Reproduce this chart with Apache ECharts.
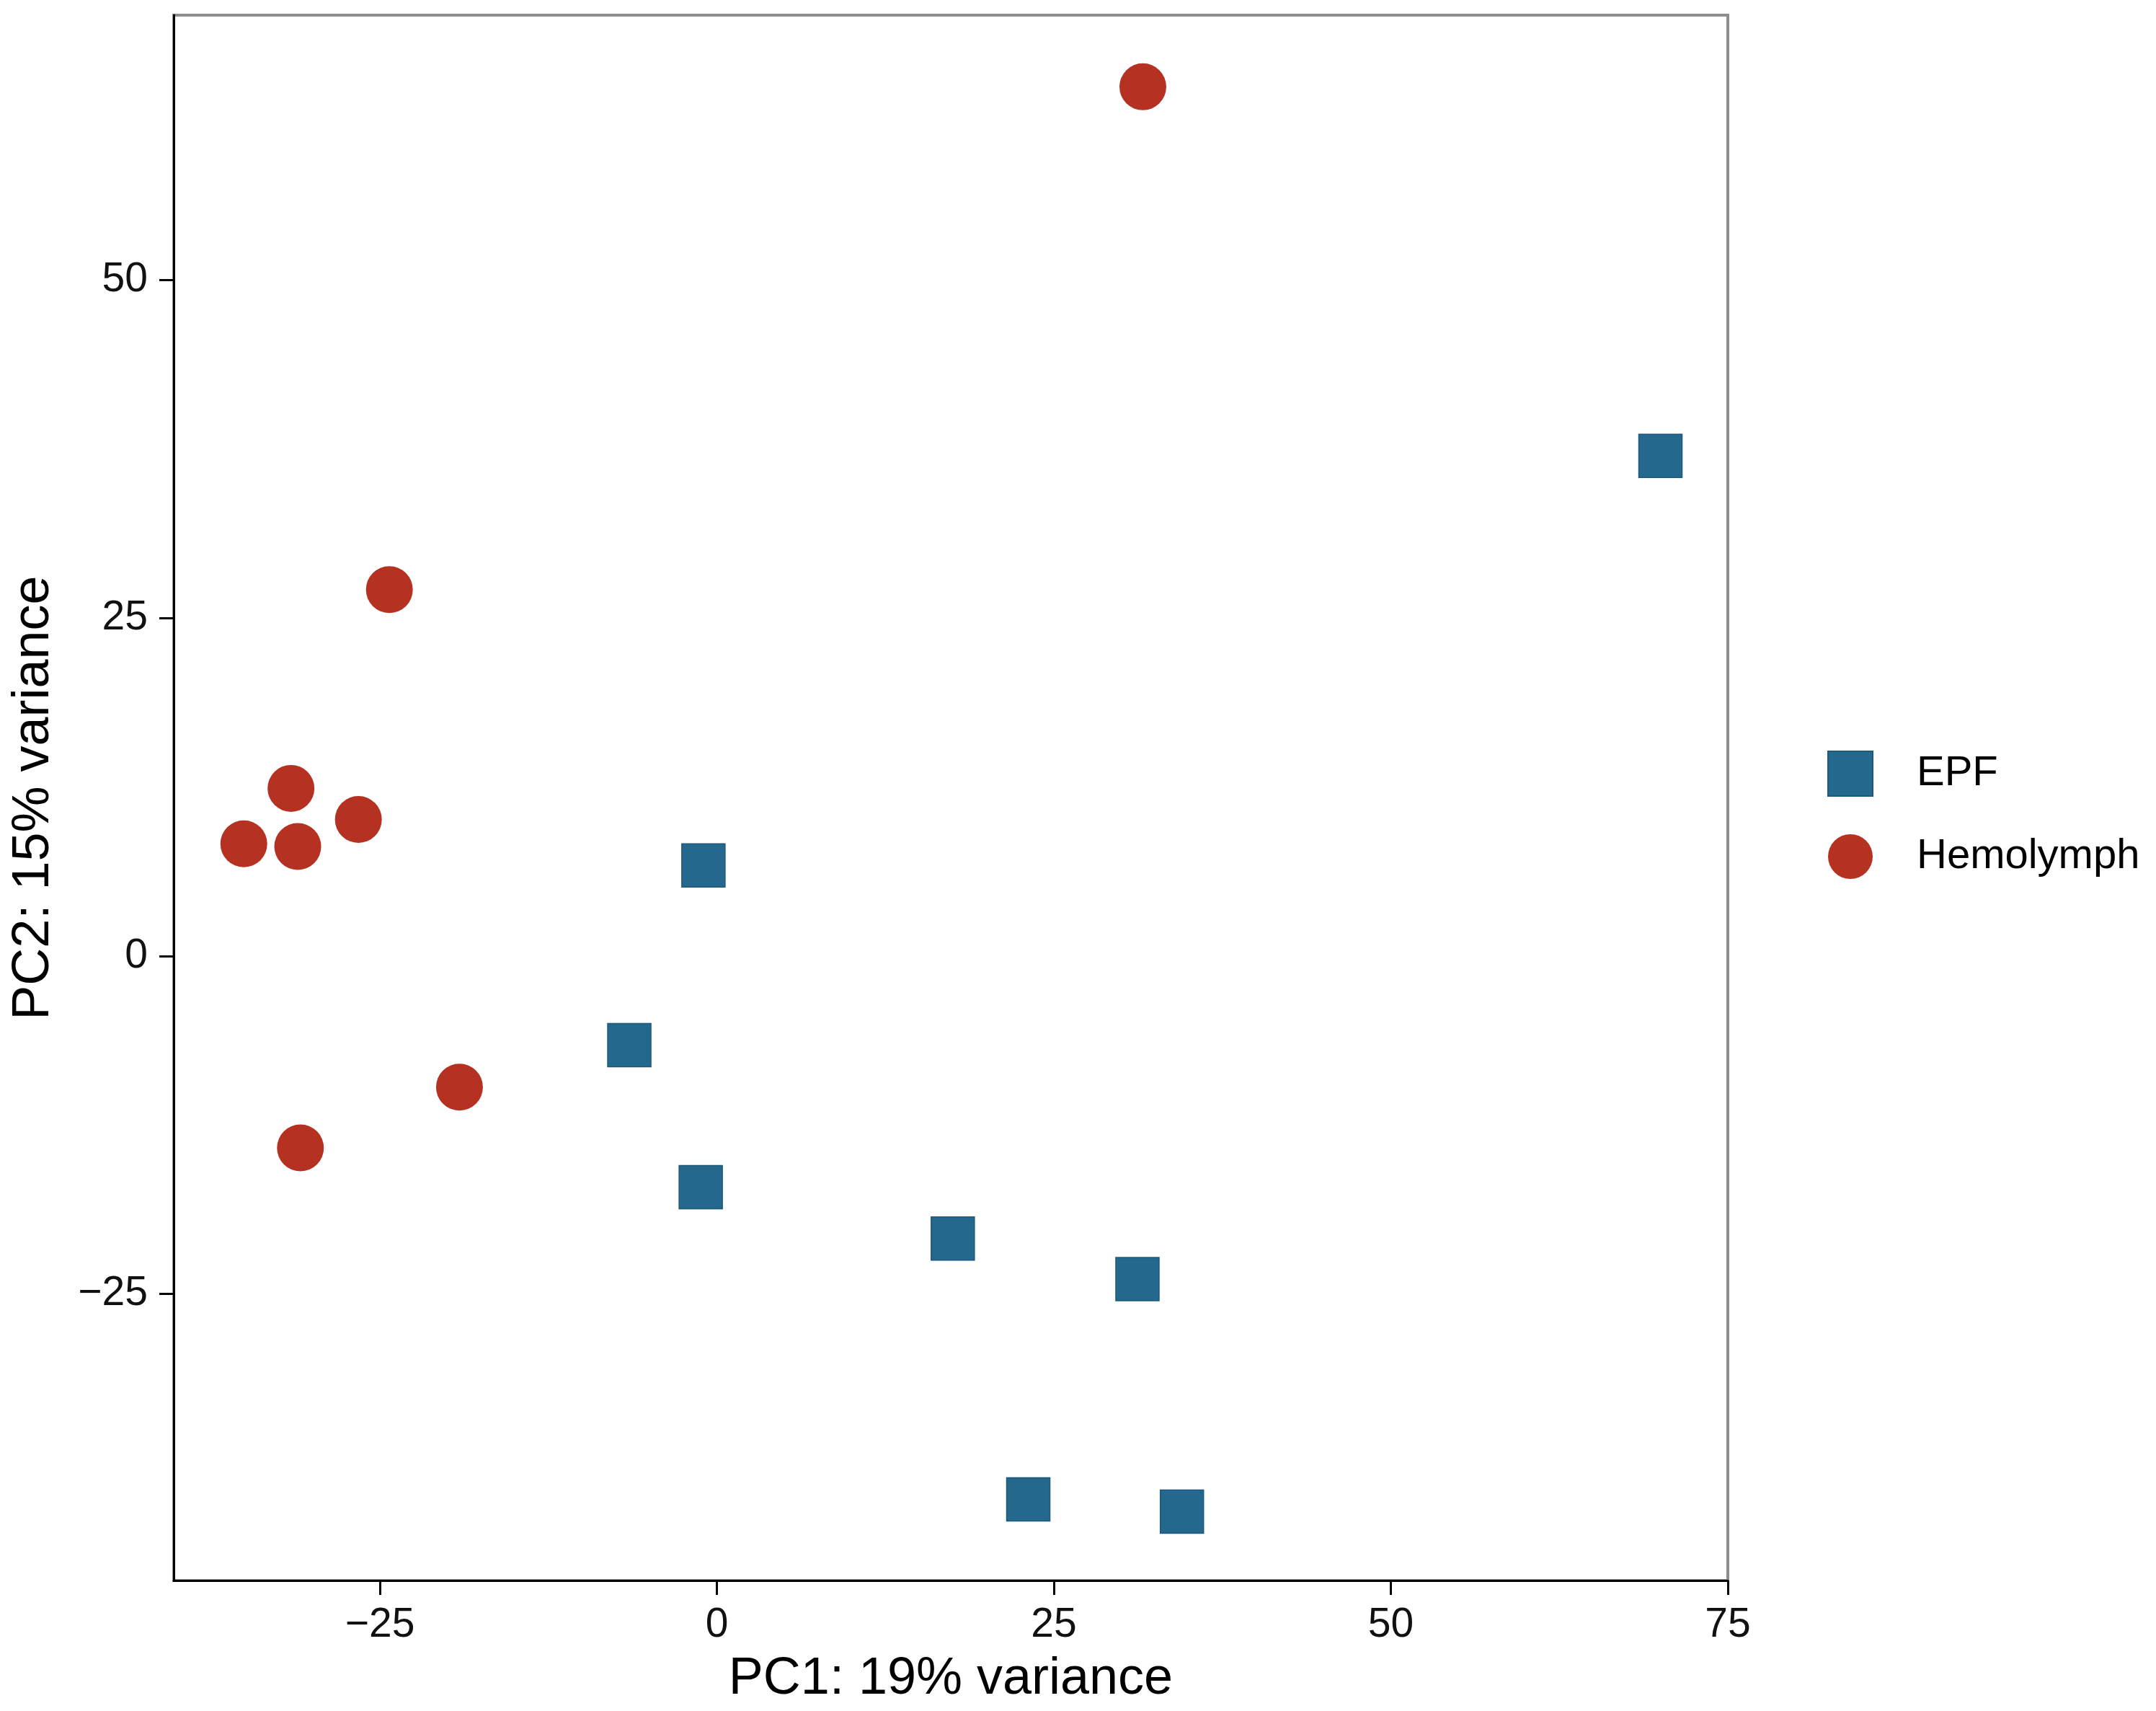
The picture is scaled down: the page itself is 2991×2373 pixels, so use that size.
<!DOCTYPE html>
<html>
<head>
<meta charset="utf-8">
<script src="https://cdn.jsdelivr.net/npm/echarts@6/dist/echarts.min.js"></script>
<style>
  html, body { margin: 0; padding: 0; background: #fff; }
  #main { width: 2991px; height: 2373px; }
</style>
</head>
<body>
<div id="main"></div>
<script>
// PCA scores, [PC1, PC2]
var epfPoints = [
  [70.0, 37.0], [-1.0, 6.7], [-6.5, -6.6], [-1.2, -17.1],
  [17.5, -20.9], [31.2, -23.9], [23.1, -40.2], [34.5, -41.1]
];
var hemolymphPoints = [
  [31.6, 64.3], [-24.3, 27.1], [-31.6, 12.4], [-35.1, 8.3],
  [-31.1, 8.1], [-26.6, 10.1], [-19.1, -9.7], [-30.9, -14.2]
];
var groupNames = ['EPF', 'Hemolymph'];
var xTicks = [-25, 0, 25, 50, 75];
var yTicks = [-25, 0, 25, 50];

var chartDom = document.getElementById('main');
var myChart = echarts.init(chartDom);

var font = 'Liberation Sans, Arial, Helvetica, sans-serif';
function fmt(v) {
  return String(v).replace('-', '\u2212');
}

var option = {
  animation: false,
  backgroundColor: '#ffffff',
  textStyle: { fontFamily: font },
  grid: {
    left: 241, right: 594, top: 21, bottom: 181,
    show: true,
    borderColor: '#8c8c8c',
    borderWidth: 4,
    backgroundColor: 'transparent'
  },
  legend: {
    orient: 'vertical',
    left: 2530,
    top: 1036,
    itemWidth: 62,
    itemHeight: 62,
    itemGap: 52,
    data: [
      { name: 'EPF', icon: 'rect' },
      { name: 'Hemolymph', icon: 'circle' }
    ],
    textStyle: {
      fontSize: 58,
      color: '#000',
      fontFamily: font,
      padding: [0, 0, 0, 56]
    }
  },
  xAxis: {
    type: 'value',
    min: -40.3,
    max: 75,
    name: 'PC1: 19% variance',
    nameLocation: 'middle',
    nameGap: 101,
    nameTextStyle: { fontSize: 72, color: '#000', fontFamily: font },
    splitLine: { show: false },
    axisLine: { show: true, onZero: false, lineStyle: { color: '#000', width: 3 } },
    axisTick: {
      show: true, length: 20,
      customValues: xTicks,
      lineStyle: { color: '#000', width: 3 }
    },
    axisLabel: {
      customValues: xTicks,
      formatter: fmt,
      fontSize: 57, color: '#111', margin: 34, fontFamily: font
    }
  },
  yAxis: {
    type: 'value',
    min: -46.2,
    max: 69.6,
    name: 'PC2: 15% variance',
    nameLocation: 'middle',
    nameGap: 158,
    nameTextStyle: { fontSize: 72, color: '#000', fontFamily: font },
    splitLine: { show: false },
    axisLine: { show: true, onZero: false, lineStyle: { color: '#000', width: 3 } },
    axisTick: {
      show: true, length: 20,
      customValues: yTicks,
      lineStyle: { color: '#000', width: 3 }
    },
    axisLabel: {
      customValues: yTicks,
      formatter: fmt,
      fontSize: 57, color: '#111', margin: 36, fontFamily: font
    }
  },
  series: [
    {
      name: groupNames[0],
      type: 'scatter',
      symbol: 'rect',
      symbolSize: 60,
      data: epfPoints,
      itemStyle: { color: '#24698d', borderColor: '#1d5a7a', borderWidth: 1.5, opacity: 1 }
    },
    {
      name: groupNames[1],
      type: 'scatter',
      symbol: 'circle',
      symbolSize: 65,
      data: hemolymphPoints,
      itemStyle: { color: '#b53222', opacity: 1 }
    }
  ]
};

myChart.setOption(option);
</script>
</body>
</html>
